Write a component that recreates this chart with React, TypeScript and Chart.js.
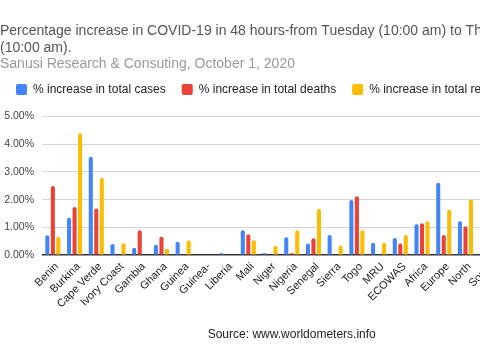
import React, { useEffect, useRef } from "react";
import { Chart, registerables } from "chart.js";

Chart.register(...registerables);

const categories = [
  "Benin", "Burkina", "Cape Verde", "Ivory Coast", "Gambia", "Ghana", "Guinea",
  "Guinea-", "Liberia", "Mali", "Niger", "Nigeria", "Senegal", "Sierra", "Togo",
  "MRU", "ECOWAS", "Africa", "Europe", "North", "South", "Asia", "World",
];

const casesPct = [
  0.72, 1.35, 3.55, 0.40, 0.27, 0.38, 0.48, 0, 0.07, 0.90, 0.07, 0.65, 0.42,
  0.73, 1.99, 0.45, 0.62, 1.11, 2.61, 1.22, null, null, null,
];
const deathsPct = [
  2.49, 1.74, 1.68, 0, 0.90, 0.66, 0, 0, 0, 0.75, 0, 0.07, 0.61,
  0, 2.12, 0, 0.42, 1.15, 0.73, 1.04, null, null, null,
];
const recoveredPct = [
  0.66, 4.39, 2.79, 0.43, 0, 0.23, 0.54, 0, 0, 0.54, 0.34, 0.90, 1.67,
  0.35, 0.90, 0.45, 0.73, 1.22, 1.64, 2.01, null, null, null,
];

const seriesNames = [
  "% increase in total cases",
  "% increase in total deaths",
  "% increase in total recovered",
];
const yTicks = [0, 1, 2, 3, 4, 5];

const titleLines = [
  "Percentage increase in COVID-19 in 48 hours-from Tuesday (10:00 am) to Thursday",
  "(10:00 am).",
];
const subtitleText = "Sanusi Research & Consuting, October 1, 2020";
const sourceText = "Source: www.worldometers.info";

const FONT = "'Liberation Sans', Arial, sans-serif";

const legendGap = {
  id: "legendGap",
  beforeInit(chart: any) {
    const legend = chart.legend;
    if (!legend) return;
    const orig = legend.fit;
    legend.fit = function () {
      orig.call(this);
      this.height += 11;
    };
  },
};

export default function App() {
  const ref = useRef<HTMLCanvasElement | null>(null);

  useEffect(() => {
    if (!ref.current) return;
    const mk = (label: string, data: (number | null)[], color: string) => ({
      label,
      data,
      backgroundColor: color,
      borderWidth: 0,
      borderRadius: { topLeft: 2, topRight: 2, bottomLeft: 0, bottomRight: 0 },
      borderSkipped: "start" as const,
      categoryPercentage: 0.76,
      barPercentage: 0.74,
    });
    const chart = new Chart(ref.current, {
      type: "bar",
      data: {
        labels: categories,
        datasets: [
          mk(seriesNames[0], casesPct, "#4285F4"),
          mk(seriesNames[1], deathsPct, "#EA4335"),
          mk(seriesNames[2], recoveredPct, "#FBBC04"),
        ],
      },
      plugins: [legendGap],
      options: {
        responsive: false,
        animation: false,
        layout: { padding: { left: 0, right: 3, top: 0, bottom: 6 } },
        plugins: {
          title: {
            display: true,
            text: titleLines,
            align: "start",
            color: "#555555",
            font: { family: FONT, size: 14, weight: "normal", lineHeight: 1.2 },
            padding: { top: 23, bottom: 0 },
          },
          subtitle: {
            display: true,
            text: subtitleText,
            align: "start",
            color: "#9a9a9a",
            font: { family: FONT, size: 14, weight: "normal", lineHeight: 1.2 },
            padding: { top: -1, bottom: -5 },
          },
          legend: {
            display: true,
            align: "start",
            labels: {
              boxWidth: 11,
              boxHeight: 11,
              padding: 16,
              color: "#222222",
              useBorderRadius: true,
              borderRadius: 2,
              font: { family: FONT, size: 12 },
            },
          },
          tooltip: { enabled: false },
        },
        scales: {
          x: {
            grid: { display: false, drawTicks: false },
            border: { display: false },
            ticks: {
              autoSkip: false,
              minRotation: 45,
              maxRotation: 45,
              color: "#222222",
              padding: 5,
              labelOffset: 4,
              font: { family: FONT, size: 11 },
            },
            title: {
              display: true,
              text: sourceText,
              color: "#222222",
              font: { family: FONT, size: 12 },
              padding: { top: 12, bottom: 12 },
            },
          },
          y: {
            min: 0,
            max: 5,
            afterFit: (s: any) => {
              s.width = 42;
            },
            afterBuildTicks: (s: any) => {
              s.ticks = yTicks.map((v) => ({ value: v }));
            },
            grid: {
              drawTicks: false,
              color: (c: any) => (c.tick && c.tick.value === 0 ? "#333333" : "#d6d6d6"),
              lineWidth: (c: any) => (c.tick && c.tick.value === 0 ? 1.5 : 1),
            },
            border: { display: false },
            ticks: {
              color: "#444444",
              padding: 8,
              font: { family: FONT, size: 10.5 },
              callback: (v: any) => Number(v).toFixed(2) + "%",
            },
          },
        },
      },
    });
    return () => chart.destroy();
  }, []);

  return (
    <div
      style={{
        position: "fixed",
        left: 0,
        top: 0,
        width: 480,
        height: 360,
        overflow: "hidden",
        background: "#ffffff",
      }}
    >
      <canvas ref={ref} width={545} height={360} style={{ display: "block" }} />
    </div>
  );
}
